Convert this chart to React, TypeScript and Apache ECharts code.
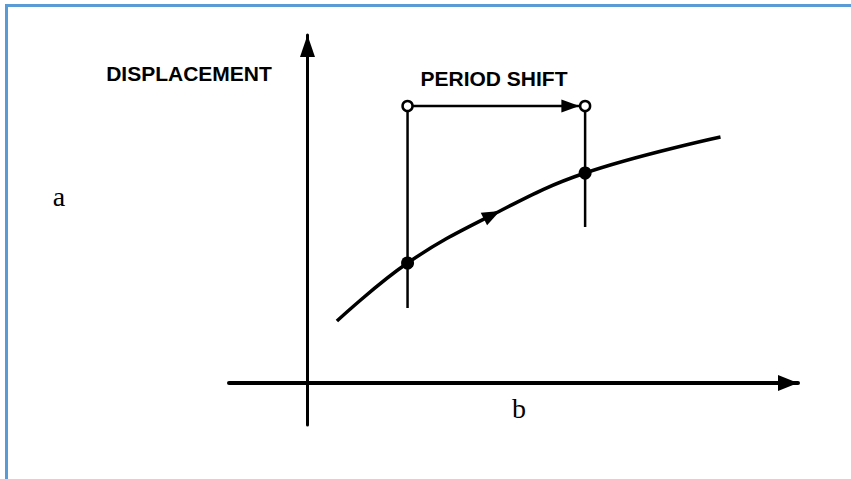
import React, { useEffect, useRef } from "react";
import * as echarts from "echarts";

// Curve (displacement vs. period) sample points
const curveX = [0.3, 1.02, 1.88, 2.83, 4.21];
const curveY = [0.62, 1.2, 1.68, 2.1, 2.46];

// Two marked points on the curve
const pointX = [1.02, 2.83];
const pointY = [1.2, 2.1];

// Vertical guide lines: bottom ends
const guideBottom = [0.75, 1.56];
// Period shift level
const shiftY = 2.77;
const shiftArrowX = 2.68;

// Arrow on the curve
const curveArrow = [1.88, 1.68];

const xMin = -0.8;
const xMax = 5.0;
const yMin = -0.42;
const yMax = 3.48;

const labels = {
  yTitle: "DISPLACEMENT",
  shift: "PERIOD SHIFT",
  a: "a",
  b: "b",
};

export default function App() {
  const ref = useRef<HTMLDivElement>(null);
  useEffect(() => {
    document.body.style.margin = "0";
    const chart = echarts.init(ref.current!, null, { renderer: "svg" });
    const ink = "#000000";
    const option: any = {
      animation: false,
      backgroundColor: "#ffffff",
      grid: { left: 229, right: 53, top: 35, bottom: 54, containLabel: false },
      xAxis: {
        type: "value",
        min: xMin,
        max: xMax,
        axisLine: {
          show: true,
          onZero: true,
          symbol: ["none", "triangle"],
          symbolSize: [16, 20],
          symbolOffset: [0, -10],
          lineStyle: { color: ink, width: 4 },
        },
        axisTick: { show: false },
        axisLabel: { show: false },
        splitLine: { show: false },
      },
      yAxis: {
        type: "value",
        min: yMin,
        max: yMax,
        axisLine: {
          show: true,
          onZero: true,
          symbol: ["none", "triangle"],
          symbolSize: [15, 22],
          symbolOffset: [0, -11],
          lineStyle: { color: ink, width: 3 },
        },
        axisTick: { show: false },
        axisLabel: { show: false },
        splitLine: { show: false },
      },
      series: [
        {
          type: "line",
          data: curveX.map((x, i) => [x, curveY[i]]),
          smooth: 0.4,
          showSymbol: false,
          lineStyle: { color: ink, width: 3.5 },
          z: 3,
        },
        ...pointX.map((x, i) => ({
          type: "line",
          data: [
            [x, guideBottom[i]],
            [x, shiftY],
          ],
          showSymbol: false,
          lineStyle: { color: ink, width: 2.5 },
          z: 2,
        })),
        {
          type: "line",
          data: [
            [pointX[0], shiftY],
            [pointX[1], shiftY],
          ],
          showSymbol: false,
          lineStyle: { color: ink, width: 2.5 },
          z: 2,
        },
        {
          type: "scatter",
          data: [[shiftArrowX, shiftY]],
          symbol: "triangle",
          symbolSize: [13, 18],
          symbolRotate: -90,
          itemStyle: { color: ink, opacity: 1 },
          z: 4,
        },
        {
          type: "scatter",
          data: [curveArrow],
          symbol: "triangle",
          symbolSize: [14, 18],
          symbolRotate: -63,
          itemStyle: { color: ink, opacity: 1 },
          z: 4,
        },
        {
          type: "scatter",
          data: pointX.map((x, i) => [x, pointY[i]]),
          symbol: "circle",
          symbolSize: 13,
          itemStyle: { color: ink, opacity: 1 },
          z: 5,
        },
        {
          type: "scatter",
          data: pointX.map((x) => [x, shiftY]),
          symbol: "circle",
          symbolSize: 10,
          itemStyle: { color: "#ffffff", borderColor: ink, borderWidth: 2.5, opacity: 1 },
          z: 5,
        },
      ],
      graphic: [
        {
          type: "rect",
          shape: { x: 5, y: 4, width: 846, height: 3 },
          style: { fill: "#5b9bd5" },
        },
        {
          type: "rect",
          shape: { x: 5, y: 4, width: 3, height: 475 },
          style: { fill: "#5b9bd5" },
        },
        {
          type: "text",
          x: 189,
          y: 73,
          style: {
            text: labels.yTitle,
            font: "bold 21px 'Liberation Sans', Arial, sans-serif",
            fill: ink,
            align: "center",
            verticalAlign: "middle",
          },
        },
        {
          type: "text",
          x: 494,
          y: 78,
          style: {
            text: labels.shift,
            font: "bold 21px 'Liberation Sans', Arial, sans-serif",
            fill: ink,
            align: "center",
            verticalAlign: "middle",
          },
        },
        {
          type: "text",
          x: 59,
          y: 196,
          style: {
            text: labels.a,
            font: "28px 'Liberation Serif', 'Times New Roman', serif",
            fill: ink,
            align: "center",
            verticalAlign: "middle",
          },
        },
        {
          type: "text",
          x: 519,
          y: 408,
          style: {
            text: labels.b,
            font: "28px 'Liberation Serif', 'Times New Roman', serif",
            fill: ink,
            align: "center",
            verticalAlign: "middle",
          },
        },
      ],
    };
    chart.setOption(option);
    return () => chart.dispose();
  }, []);
  return <div ref={ref} style={{ width: 851, height: 479 }} />;
}
